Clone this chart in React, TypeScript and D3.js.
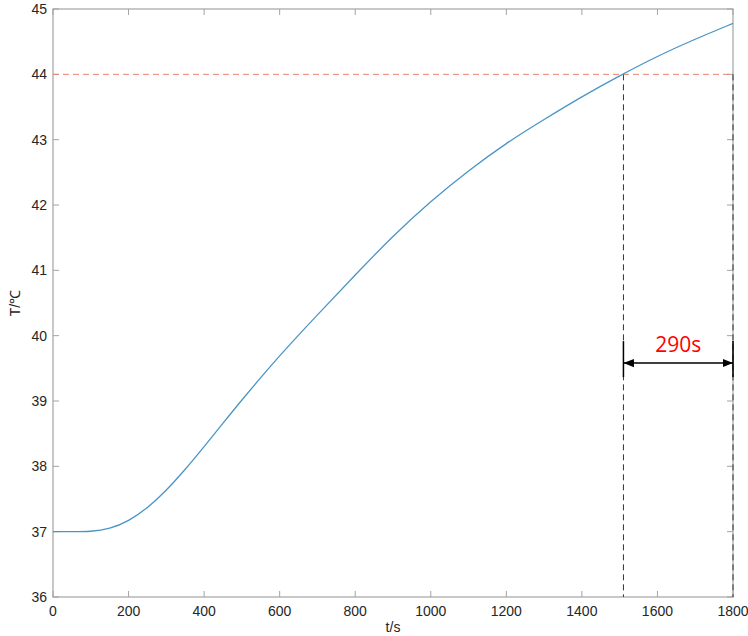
import React from 'react';
import * as d3 from 'd3';

// temperature curve
const times = [0, 50, 100, 150, 200, 250, 300, 350, 400, 450, 500, 600, 700, 800, 900, 1000, 1100, 1200, 1300, 1400, 1500, 1600, 1700, 1800];
const temps = [37.0, 37.0, 37.0, 37.04, 37.16, 37.36, 37.63, 37.95, 38.3, 38.66, 39.02, 39.7, 40.32, 40.93, 41.53, 42.06, 42.53, 42.95, 43.31, 43.66, 43.98, 44.28, 44.54, 44.78];

const xTicks = [0, 200, 400, 600, 800, 1000, 1200, 1400, 1600, 1800];
const yTicks = [36, 37, 38, 39, 40, 41, 42, 43, 44, 45];

const threshold = 44;
const tReach = 1510;
const tEnd = 1800;
const gapLabel = '290s';

const W = 748;
const H = 636;
const margin = { top: 9, right: 15, bottom: 39, left: 53 };

const App = () => {
  const innerW = W - margin.left - margin.right;
  const innerH = H - margin.top - margin.bottom;

  const x = d3.scaleLinear().domain([0, 1800]).range([0, innerW]);
  const y = d3.scaleLinear().domain([36, 45]).range([innerH, 0]);

  const pts = times.map((t, i) => [t, temps[i]] as [number, number]);
  const line = d3.line<[number, number]>()
    .x(d => x(d[0]))
    .y(d => y(d[1]))
    .curve(d3.curveBasis);

  const axisColor = '#a3a3a3';
  const font = 'Arial, "Liberation Sans", sans-serif';
  const arrowY = y(39.58);

  return (
    <svg width={W} height={H} style={{ position: 'absolute', left: 0, top: 0, background: '#fff' }}>
      <defs>
        <marker id="ah" viewBox="0 0 10 10" refX="10" refY="5" markerWidth="7" markerHeight="7" orient="auto-start-reverse">
          <path d="M0,1 L10,5 L0,9 z" fill="#000" />
        </marker>
      </defs>
      <g transform={`translate(${margin.left},${margin.top})`}>
        {/* box */}
        <rect x={0} y={0} width={innerW} height={innerH} fill="none" stroke={axisColor} strokeWidth={1.2} />
        {xTicks.map(t => (
          <g key={'x' + t}>
            <line x1={x(t)} x2={x(t)} y1={innerH} y2={innerH - 6} stroke={axisColor} />
            <line x1={x(t)} x2={x(t)} y1={0} y2={6} stroke={axisColor} />
            <text x={x(t)} y={innerH + 19} textAnchor="middle" fontSize={14} fontFamily={font} fill="#262626">{t}</text>
          </g>
        ))}
        {yTicks.map(v => (
          <g key={'y' + v}>
            <line x1={0} x2={6} y1={y(v)} y2={y(v)} stroke={axisColor} />
            <line x1={innerW} x2={innerW - 6} y1={y(v)} y2={y(v)} stroke={axisColor} />
            <text x={-6} y={y(v)} dy="0.35em" textAnchor="end" fontSize={14} fontFamily={font} fill="#262626">{v}</text>
          </g>
        ))}

        {/* threshold and marker lines */}
        <line x1={x(0)} x2={x(1800)} y1={y(threshold)} y2={y(threshold)} stroke="#e8826f" strokeWidth={1} strokeDasharray="6,4" />
        <line x1={x(tReach)} x2={x(tReach)} y1={y(threshold)} y2={innerH} stroke="#333" strokeWidth={1} strokeDasharray="6,4" />
        <line x1={x(tEnd)} x2={x(tEnd)} y1={y(threshold)} y2={innerH} stroke="#333" strokeWidth={1} strokeDasharray="6,4" />

        {/* curve */}
        <path d={line(pts) || ''} fill="none" stroke="#4a95c6" strokeWidth={1.3} />

        {/* 290s annotation */}
        <line x1={x(tReach)} x2={x(tReach)} y1={arrowY - 22} y2={arrowY + 14} stroke="#000" strokeWidth={1.5} />
        <line x1={x(tEnd)} x2={x(tEnd)} y1={arrowY - 22} y2={arrowY + 14} stroke="#000" strokeWidth={1.5} />
        <line x1={x(tReach)} x2={x(tEnd)} y1={arrowY} y2={arrowY} stroke="#000" strokeWidth={1.5} markerStart="url(#ah)" markerEnd="url(#ah)" />
        <text x={(x(tReach) + x(tEnd)) / 2} y={arrowY - 11} textAnchor="middle" fontSize={21} fontFamily={'"Open Sans", Calibri, sans-serif'} fill="#ff0000">{gapLabel}</text>

        {/* axis labels */}
        <text x={innerW / 2} y={innerH + 35} textAnchor="middle" fontSize={14} fontFamily={font} fill="#262626">t/s</text>
        <text transform={`translate(${-33},${innerH / 2}) rotate(-90)`} textAnchor="middle" fontSize={14} fontFamily={font} fill="#262626">T/℃</text>
      </g>
    </svg>
  );
};

export default App;
